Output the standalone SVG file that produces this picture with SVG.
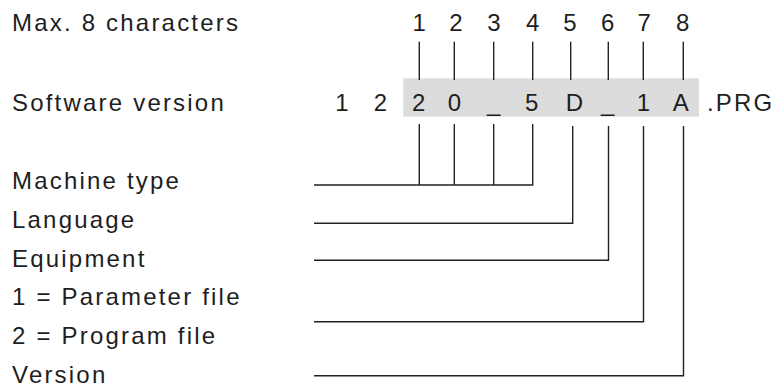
<svg xmlns="http://www.w3.org/2000/svg" width="782" height="389" viewBox="0 0 782 389">
<style>
.lbl{font-family:"Liberation Sans",Arial,sans-serif;font-size:24px;letter-spacing:2.2px;fill:#1e1e1e}
.ch{font-family:"Liberation Sans",Arial,sans-serif;font-size:24px;fill:#1e1e1e;text-anchor:middle}
.ln{stroke:#222;stroke-width:1.4;fill:none}
</style>
<rect width="782" height="389" fill="#fff"/>
<g id="header">
<text class="lbl" x="12" y="31.3">Max. 8 characters</text>
<text class="ch" x="419.3" y="31.3">1</text>
<text class="ch" x="456" y="31.3">2</text>
<text class="ch" x="494" y="31.3">3</text>
<text class="ch" x="532.7" y="31.3">4</text>
<text class="ch" x="570" y="31.3">5</text>
<text class="ch" x="607.7" y="31.3">6</text>
<text class="ch" x="644.3" y="31.3">7</text>
<text class="ch" x="682.7" y="31.3">8</text>
</g>
<g id="software-version">
<rect x="403.3" y="78.3" width="295.7" height="38.4" fill="#dcdcdc"/>
<text class="lbl" x="12" y="111">Software version</text>
<text class="ch" x="342" y="111">1</text>
<text class="ch" x="380.5" y="111">2</text>
<text class="ch" x="418.7" y="111">2</text>
<text class="ch" x="454.5" y="111">0</text>
<text class="ch" x="493.8" y="111">_</text>
<text class="ch" x="531.7" y="111">5</text>
<text class="ch" x="574.3" y="111">D</text>
<text class="ch" x="607.7" y="111">_</text>
<text class="ch" x="643.5" y="111">1</text>
<text class="ch" x="680.7" y="111">A</text>
<text class="lbl" x="707" y="111">.PRG</text>
</g>
<g id="machine-type"><text class="lbl" x="12" y="189">Machine type</text></g>
<g id="language"><text class="lbl" x="12" y="227.8">Language</text></g>
<g id="equipment"><text class="lbl" x="12" y="266.6">Equipment</text></g>
<g id="parameter-file"><text class="lbl" x="12" y="305.4">1 = Parameter file</text></g>
<g id="program-file"><text class="lbl" x="12" y="344.2">2 = Program file</text></g>
<g id="version"><text class="lbl" x="12" y="383">Version</text></g>
<g id="connectors" class="ln">
<path d="M419.3 41.7V80M454.3 41.7V80M493.7 41.7V80M532.7 41.7V80M570.7 41.7V80M608.3 41.7V80M643.3 41.7V80M683.3 41.7V80"/>
<path d="M419.3 124V185M454.3 124V185M493.7 124V185M314 185H532.7V124"/>
<path d="M314 223.3H572.7V126"/>
<path d="M314 260.2H608.5V126"/>
<path d="M314 321.7H643.5V126"/>
<path d="M314 375.7H683.5V126"/>
</g>
</svg>
